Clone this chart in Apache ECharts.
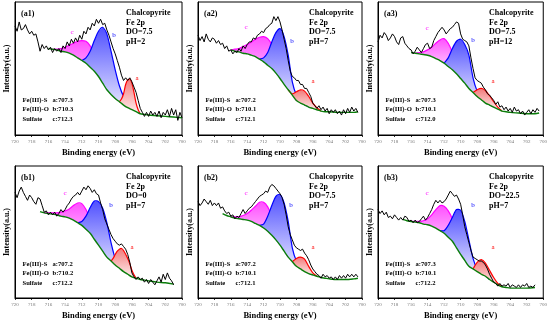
<!DOCTYPE html>
<html><head><meta charset="utf-8">
<script src="https://cdn.jsdelivr.net/npm/echarts@6/dist/echarts.min.js"></script>
<style>html,body{margin:0;padding:0;background:#fff}#c{width:550px;height:326px}</style>
</head><body><div id="c"></div>
<script>
const energies = [720,719.75,719.5,719.25,719,718.75,718.5,718.25,718,717.75,717.5,717.25,717,716.75,716.5,716.25,716,715.75,715.5,715.25,715,714.75,714.5,714.25,714,713.75,713.5,713.25,713,712.75,712.5,712.25,712,711.75,711.5,711.25,711,710.75,710.5,710.25,710,709.75,709.5,709.25,709,708.75,708.5,708.25,708,707.75,707.5,707.25,707,706.75,706.5,706.25,706,705.75,705.5,705.25,705,704.75,704.5,704.25,704,703.75,703.5,703.25,703,702.75,702.5,702.25,702,701.75,701.5,701.25,701,700.75,700.5,700.25,700];
const tickLabels = ['720','718','716','714','712','710','708','706','704','702','700'];

// ---- panel a1 ----
const a1Raw = [82,78,85,79,80,83,79,76,78,75, 76,70,63,68,65,67,64,66,62,65, 63,65,62,67,65,70,67,72,69,73, 70,75,72,78,76,81,79,84,82,87, 84,87,83,84,79,75,70,65,61,56, 51,45,41,43,41,43,40,36,32,26, 20,17,14,17,14,18,15,17,14,18, 13,17,15,19,14,20,15,19,11,17,13];
const a1Bg = [[716,65],[715.5,64.5],[715,64],[714.5,63],[714,62.5],[713.5,61.5],[713,60],[712.5,58],[712,56],[711.5,54],[711,51],[710.5,48],[710,44],[709.5,39],[709,34],[708.5,30.5],[708,27.5],[707.5,25],[707,22.5],[706.5,20.5],[706,19],[705.5,17.5],[705,16],[704.5,15.5],[704,15],[703,14.5],[702,14],[701,13.5],[700,13]];
const a1PeakC = [[715.5,64.5],[715,64.5],[714.5,65],[714,66],[713.5,67.5],[713,69],[712.5,70.5],[712,71],[711.5,70.5],[711,67],[710.5,61],[710,54],[709.5,46],[709,39],[708.5,33],[708,27.5]];
const a1PeakB = [[712,56],[711.5,58],[711,63],[710.5,71],[710,78],[709.5,81],[709,76],[708.5,63],[708,49],[707.5,37],[707,29],[706.5,24],[706,21],[705.5,18.5],[705,16]];
const a1PeakA = [[707.5,25],[707.25,27],[707,31],[706.75,38],[706.5,41.5],[706.25,42],[706,39],[705.75,32],[705.5,24],[705.25,19],[705,16]];

// ---- panel a2 ----
const a2Raw = [75,71,74,70,76,72,70,73,72,69, 71,68,69,65,67,63,64,61,63,62, 65,63,67,65,68,70,70,73,72,75, 76,78,77,80,81,83,84,89,86,89, 85,79,72,65,56,48,44,43,41,41, 38,38,35,35,32,29,24,22,20,22, 19,21,18,20,16,19,17,19,16,18, 15,19,16,20,17,21,18,20,17,null,null];
const a2Bg = [[716,64],[715.5,63],[715,62.5],[714.5,61.5],[714,61],[713.5,60],[713,59],[712.5,57],[712,55],[711.5,52.5],[711,50],[710.5,46.5],[710,42.5],[709.5,38],[709,34],[708.5,30],[708,26],[707.5,24],[707,22.5],[706.5,21],[706,20],[705.5,19],[705,18],[704.5,17.5],[704,17.5],[703,17],[702,17],[701,17],[700.5,17.5]];
const a2PeakC = [[716,64],[715.5,64.5],[715,65],[714.5,66.5],[714,68],[713.5,70],[713,72],[712.5,73.5],[712,74],[711.5,72.5],[711,68],[710.5,60],[710,51],[709.5,43],[709,36],[708.5,31],[708,26]];
const a2PeakB = [[712.5,57],[712,58],[711.5,62],[711,70],[710.5,77],[710,80],[709.5,74],[709,60],[708.5,40],[708,30],[707.5,25.5],[707,23],[706.5,21]];
const a2PeakA = [[709,34],[708.5,31],[708,32.5],[707.5,34],[707,33],[706.5,29],[706,24],[705.5,20.5],[705,18]];

// ---- panel a3 ----
const a3Raw = [70,75,73,77,75,71,73,76,74,70, 68,73,74,69,67,65,64,61,63,66, 64,62,65,68,69,65,66,71,74,77, 79,81,79,76,78,80,81,83,85,84, 76,72,71,70,67,58,50,43,41,40, 39,36,34,31,30,28,26,23,25,21, 22,19,21,18,20,17,21,18,19,16, 18,15,17,19,16,19,17,20,18,null,null];
const a3Bg = [[716,62],[715.5,61.5],[715,61],[714.5,60.5],[714,60],[713.5,59],[713,57.5],[712.5,56],[712,54],[711.5,51.5],[711,49],[710.5,46],[710,42.5],[709.5,39],[709,35],[708.5,32],[708,29],[707.5,26.5],[707,24],[706.5,22.5],[706,21],[705.5,19.5],[705,18],[704.5,17.5],[704,17],[703,16.5],[702,16],[701,16],[700.5,16.5]];
const a3PeakC = [[715.5,61.5],[715,62],[714.5,62.5],[714,64],[713.5,66],[713,69],[712.5,71.5],[712,72.5],[711.5,69],[711,62],[710.5,52],[710,42.5]];
const a3PeakB = [[712,54],[711.5,58],[711,65],[710.5,70.5],[710,72],[709.5,68],[709,60],[708.5,43],[708,33],[707.5,28],[707,25],[706.5,23],[706,21]];
const a3PeakA = [[708.5,32],[708,34],[707.5,35],[707,33.5],[706.5,29.5],[706,25],[705.5,21],[705,18]];

// ---- panel b1 ----
const b1Raw = [80,76,81,84,80,77,74,78,76,73, 71,76,75,70,65,66,63,65,63,65, 62,64,67,65,67,70,72,75,77,78, 80,78,81,84,82,85,83,80,82,79, 78,72,67,60,56,52,48,45,43,41, 40,41,39,37,33,27,19,16,14,16, 14,15,12,14,11,14,12,10,13,16, 12,18,14,19,15,13,10,null,null,null,null];
const b1Bg = [[717,65.5],[716.5,64.5],[716,64],[715.5,63.5],[715,63],[714.5,62],[714,61.5],[713.5,60.5],[713,59],[712.5,57],[712,55],[711.5,52],[711,49],[710.5,44.5],[710,40],[709.5,35.5],[709,31],[708.5,28],[708,25],[707.5,22.5],[707,20],[706.5,18],[706,16],[705.5,15],[705,14],[704.5,13.5],[704,13],[703,12],[702,11.5],[701,10.5]];
const b1PeakC = [[716.5,64.5],[716,64.5],[715.5,64.5],[715,64.5],[714.5,65],[714,66],[713.5,67.5],[713,70],[712.5,72],[712,71.5],[711.5,67],[711,60],[710.5,53],[710,45],[709.5,38],[709,31]];
const b1PeakB = [[712.5,57],[712,58],[711.5,62],[711,68.5],[710.5,73.5],[710,73],[709.5,68],[709,57],[708.5,42],[708,30],[707.5,24.5],[707,21.5],[706.5,19],[706,16]];
const b1PeakA = [[708.5,28],[708.25,30],[708,33],[707.75,35.5],[707.5,37],[707.25,37.5],[707,36],[706.5,30],[706.25,26],[706,21],[705.75,17.5],[705.5,15]];

// ---- panel b2 ----
const b2Raw = [73,70,72,75,73,71,74,70,72,70, 72,68,69,66,64,65,62,63,60,62, 61,64,67,64,66,68,69,71,73,75, 77,78,79,81,80,84,86,85,83,81, 79,76,71,63,54,48,44,40,38,37, 36,37,34,32,29,25,22,20,18,17, 15,18,16,17,15,16,14,16,14,17, 15,17,15,18,16,18,16,18,16,null,null];
const b2Bg = [[717,64],[716.5,62.5],[716,61.5],[715.5,60.5],[715,60],[714.5,59.5],[714,59],[713.5,58],[713,56.5],[712.5,55],[712,53],[711.5,50.5],[711,47.5],[710.5,44],[710,40],[709.5,35.5],[709,31],[708.5,27.5],[708,24],[707.5,22],[707,20],[706.5,18.5],[706,17.5],[705.5,16.5],[705,15.5],[704.5,15],[704,14.5],[703,14],[702,14],[701,14.5],[700.5,15]];
const b2PeakC = [[716,61.5],[715.5,61.5],[715,61.5],[714.5,62.5],[714,64],[713.5,66.5],[713,69.5],[712.5,72.5],[712,72.5],[711.5,69],[711,62],[710.5,54],[710,46],[709.5,38],[709,31]];
const b2PeakB = [[712.5,55],[712,56],[711.5,62],[711,70],[710.5,77],[710,78.5],[709.5,72],[709,58],[708.5,38],[708,28],[707.5,24],[707,21.5],[706.5,19],[706,17.5]];
const b2PeakA = [[708.5,27.5],[708,30],[707.5,31],[707,29.5],[706.5,24],[706,19],[705.5,16.5]];

// ---- panel b3 ----
const b3Raw = [67,64,66,63,65,61,62,60,63,61, 59,61,59,62,61,58,59,57,59,57, 58,60,62,59,61,64,67,71,74,72, 74,72,73,75,78,81,79,77,78,75, 71,63,54,48,42,36,31,30,29,28, 28,27,25,22,18,15,12,11,9,11, 9,10,9,11,8,10,9,8,10,8, 10,9,11,8,9,8,10,null,null,null,null];
const b3Bg = [[717,59.5],[716.5,58.5],[716,58],[715.5,57.5],[715,57],[714.5,56],[714,55.5],[713.5,54.5],[713,53],[712.5,51],[712,49],[711.5,46],[711,43],[710.5,38],[710,33],[709.5,28.5],[709,24],[708.5,22],[708,20],[707.5,18],[707,16.5],[706.5,14],[706,12],[705.5,10],[705,8.5],[704.5,8],[704,7.5],[703,7.5],[702,7.5],[701,8]];
const b3PeakC = [[716,58],[715.5,58],[715,58],[714.5,58.5],[714,60],[713.5,63],[713,67],[712.5,70],[712,69.5],[711.5,66],[711,60],[710.5,51],[710,40],[709.5,28.5]];
const b3PeakB = [[712.5,51],[712,51],[711.5,55],[711,61],[710.5,67],[710,66.5],[709.5,58],[709,44],[708.5,30],[708,22],[707.5,19],[707,17],[706.5,14]];
const b3PeakA = [[708.5,22],[708,27],[707.5,29],[707,26.5],[706.5,21],[706,15.5],[705.5,11],[705,8.5]];

// ---- texts ----
const panelNames = ['(a1)','(a2)','(a3)','(b1)','(b2)','(b3)'];
const doValues = ['DO=7.5','DO=7.5','DO=7.5','DO=0','DO=7.5','DO=22.5'];
const phValues = ['pH=2','pH=7','pH=12','pH=7','pH=7','pH=7'];
const fitA = ['a:707.3','a:707.2','a:707.3','a:707.2','a:707.2','a:707.3'];
const fitB = ['b:710.3','b:710.1','b:710.1','b:710.2','b:710.1','b:710.1'];
const fitC = ['c:712.3','c:712.1','c:712.0','c:712.2','c:712.1','c:712.2'];

const panels = [
  {raw:a1Raw,bg:a1Bg,c:a1PeakC,b:a1PeakB,a:a1PeakA},
  {raw:a2Raw,bg:a2Bg,c:a2PeakC,b:a2PeakB,a:a2PeakA},
  {raw:a3Raw,bg:a3Bg,c:a3PeakC,b:a3PeakB,a:a3PeakA},
  {raw:b1Raw,bg:b1Bg,c:b1PeakC,b:b1PeakB,a:b1PeakA},
  {raw:b2Raw,bg:b2Bg,c:b2PeakC,b:b2PeakB,a:b2PeakA},
  {raw:b3Raw,bg:b3Bg,c:b3PeakC,b:b3PeakB,a:b3PeakA}
];

// layout (pixels)
const gridRects = [
  {left:15,top:2,width:167,height:133},
  {left:198,top:2,width:164,height:133},
  {left:378,top:2,width:166,height:133},
  {left:15,top:166,width:167,height:132},
  {left:198,top:166,width:164,height:132},
  {left:378,top:166,width:166,height:132}
];
const letterPos = [
  [[72,32],[114,35],[137,78]],
  [[246,27],[292,41],[313,81]],
  [[427,28],[473,40],[493,81]],
  [[65,193],[111,205],[132,247]],
  [[246,193],[291,205],[313,247]],
  [[427,193],[473,205],[493,247]]
];

const SERIF = '"Liberation Serif","Times New Roman",serif';
const peakStyles = {
  c:{stops:['#ff50ff','#ff9cff','#ffe2ff'],line:'#ff00ff'},
  b:{stops:['#5050ff','#9a9aff','#f2f2ff'],line:'#0000ff'},
  a:{stops:['#f27a7a','#f8b0b0','#fff0f0'],line:'#ff0000'}
};

function peakSeries(gi, pts, bg, st){
  const lo = Math.min(pts[0][0], pts[pts.length-1][0]);
  const hi = Math.max(pts[0][0], pts[pts.length-1][0]);
  const back = bg.filter(p => p[0] > lo && p[0] < hi).sort((p,q) => p[0]-q[0]);
  return {
    type:'custom', xAxisIndex:gi, yAxisIndex:gi, silent:true, clip:true,
    data:[pts[0]],
    renderItem:function(params, api){
      const top = pts.map(p => api.coord(p));
      const bot = back.map(p => api.coord(p));
      return {type:'group', children:[
        {type:'polygon', shape:{points: top.concat(bot)},
         style:{fill:new echarts.graphic.LinearGradient(0,0,0,1,[
           {offset:0,color:st.stops[0]},{offset:0.45,color:st.stops[1]},{offset:1,color:st.stops[2]}])}},
        {type:'polyline', shape:{points: top, smooth:0.25},
         style:{stroke:st.line, lineWidth:1.2, fill:null}}
      ]};
    }
  };
}

const grid=[], xAxis=[], yAxis=[], series=[], graphic=[];
gridRects.forEach((r,i)=>{
  grid.push({left:r.left, top:r.top, width:r.width, height:r.height, show:true, borderColor:'#000', borderWidth:1, backgroundColor:'#fff'});
  xAxis.push({gridIndex:i, type:'value', min:700, max:720, interval:2, inverse:true,
    axisLine:{show:true, lineStyle:{color:'#000', width:1}},
    axisTick:{show:true, length:2, lineStyle:{color:'#000', width:0.8}},
    axisLabel:{show:true, margin:4, fontSize:5, color:'#777', fontFamily:SERIF,
      formatter:function(v){ const s=String(v); return tickLabels.indexOf(s)>=0 ? s : ''; }},
    splitLine:{show:false},
    name:'Binding energy (eV)', nameLocation:'middle', nameGap:13,
    nameTextStyle:{fontFamily:SERIF, fontWeight:'bold', fontSize:8.5, color:'#000'}});
  yAxis.push({gridIndex:i, type:'value', min:0, max:100,
    axisLine:{show:true, lineStyle:{color:'#000'}}, axisTick:{show:false}, axisLabel:{show:false}, splitLine:{show:false},
    name:'Intensity(a.u.)', nameLocation:'middle', nameGap:4, nameRotate:90,
    nameTextStyle:{fontFamily:SERIF, fontWeight:'bold', fontSize:8, color:'#000'}});
  const p = panels[i];
  series.push(peakSeries(i, p.c, p.bg, peakStyles.c));
  series.push(peakSeries(i, p.b, p.bg, peakStyles.b));
  series.push(peakSeries(i, p.a, p.bg, peakStyles.a));
  series.push({type:'line', xAxisIndex:i, yAxisIndex:i, data:p.bg, showSymbol:false, smooth:0.3, silent:true,
    lineStyle:{color:'#0a7d0a', width:1.4}});
  series.push({type:'line', xAxisIndex:i, yAxisIndex:i, data:energies.map((e,k)=>[e,p.raw[k]]), showSymbol:false, silent:true,
    connectNulls:false, lineStyle:{color:'#000', width:1}});

  const L=r.left, T=r.top;
  const t = (x,y,text,font,color,align)=>graphic.push({type:'text', x:x, y:y, silent:true,
    style:{text:text, font:font, fill:color||'#000', textAlign:align||'left', textVerticalAlign:'middle'}});
  t(L+6, T+12, panelNames[i], 'bold 8px '+SERIF);
  t(L+111, T+11, 'Chalcopyrite', 'bold 8px '+SERIF);
  t(L+111, T+20.5, 'Fe 2p', 'bold 8px '+SERIF);
  t(L+111, T+30, doValues[i], 'bold 8px '+SERIF);
  t(L+111, T+39.5, phValues[i], 'bold 8px '+SERIF);
  t(L+7.5, T+98, 'Fe(III)-S', 'bold 6.6px '+SERIF);
  t(L+7.5, T+107.5, 'Fe(III)-O', 'bold 6.6px '+SERIF);
  t(L+7.5, T+117, 'Sulfate', 'bold 6.6px '+SERIF);
  t(L+37.5, T+98, fitA[i], 'bold 6.6px '+SERIF);
  t(L+37.5, T+107.5, fitB[i], 'bold 6.6px '+SERIF);
  t(L+37.5, T+117, fitC[i], 'bold 6.6px '+SERIF);
  const lp = letterPos[i];
  t(lp[0][0], lp[0][1], 'c', '7px '+SERIF, '#ff00ff', 'center');
  t(lp[1][0], lp[1][1], 'b', '7px '+SERIF, '#0000ff', 'center');
  t(lp[2][0], lp[2][1], 'a', '7px '+SERIF, '#ff0000', 'center');
});

const chart = echarts.init(document.getElementById('c'), null, {renderer:'canvas'});
chart.setOption({backgroundColor:'#fff', animation:false, grid, xAxis, yAxis, series, graphic});
</script></body></html>
